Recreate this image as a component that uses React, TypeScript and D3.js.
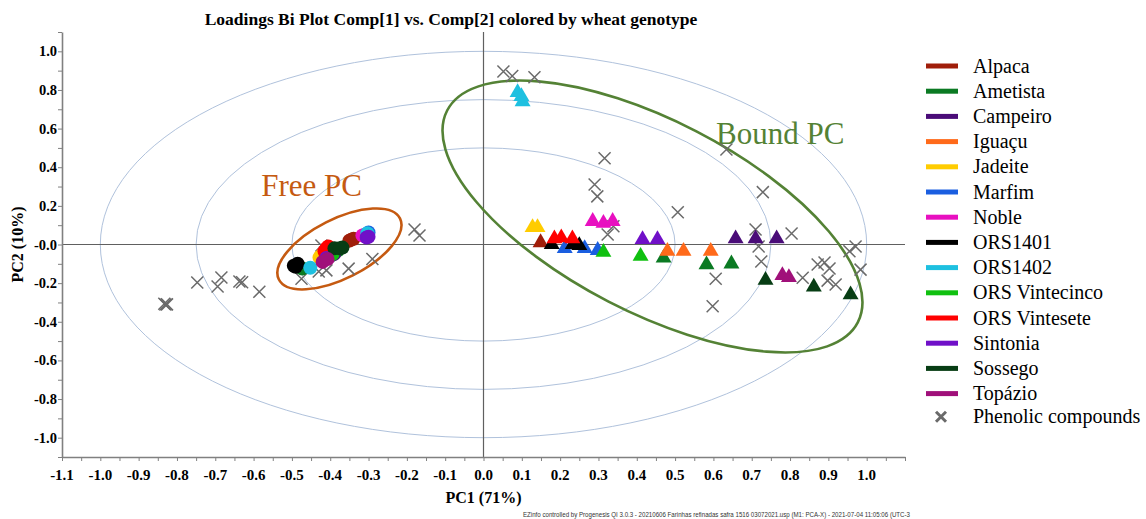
import { useEffect, useRef } from 'react';
import * as d3 from 'd3';

// genotypes and their colours
const genotypes = ['Alpaca', 'Ametista', 'Campeiro', 'Iguaçu', 'Jadeite', 'Marfim', 'Noble', 'ORS1401',
  'ORS1402', 'ORS Vintecinco', 'ORS Vintesete', 'Sintonia', 'Sossego', 'Topázio'];
const colors = ['#a01e0a', '#0b7a23', '#4a0c78', '#ff6a1a', '#ffcc00', '#1a5ee0', '#e810c0', '#000000',
  '#1ec0e0', '#10c010', '#ff0000', '#7010c8', '#073d14', '#a0107a'];

// free phenolic compounds (circles), [PC1, PC2] per genotype
const freeScores = [
  [[-0.35, 0.02], [-0.339, 0.03], [-0.345, 0.025]],
  [[-0.473, -0.124], [-0.395, -0.04], [-0.38, -0.03]],
  [[-0.40, -0.06], [-0.39, -0.05]],
  [[-0.41, -0.04], [-0.42, -0.05]],
  [[-0.428, -0.067], [-0.425, -0.06]],
  [[-0.30, 0.062], [-0.41, -0.03]],
  [[-0.316, 0.047], [-0.31, 0.05]],
  [[-0.495, -0.11], [-0.485, -0.10], [-0.49, -0.115]],
  [[-0.452, -0.12], [-0.303, 0.058]],
  [[-0.394, -0.05], [-0.40, -0.055]],
  [[-0.41, -0.02], [-0.415, -0.035], [-0.405, -0.01]],
  [[-0.305, 0.036], [-0.30, 0.04], [-0.41, -0.07]],
  [[-0.389, -0.02], [-0.368, -0.016], [-0.375, -0.02]],
  [[-0.42, -0.09], [-0.407, -0.075]],
];

// bound phenolic compounds (triangles)
const boundScores = [
  [[0.149, 0.01]],
  [[0.47, -0.07], [0.582, -0.104], [0.647, -0.1]],
  [[0.658, 0.03], [0.71, 0.03], [0.765, 0.03]],
  [[0.48, -0.035], [0.522, -0.035], [0.593, -0.035]],
  [[0.128, 0.088], [0.141, 0.088]],
  [[0.212, -0.02], [0.264, -0.02], [0.298, -0.03]],
  [[0.285, 0.12], [0.313, 0.11], [0.337, 0.12]],
  [[0.178, 0.0], [0.233, 0.0], [0.25, -0.005]],
  [[0.089, 0.787], [0.099, 0.767], [0.102, 0.74]],
  [[0.313, -0.04], [0.41, -0.06]],
  [[0.185, 0.03], [0.203, 0.035], [0.232, 0.03]],
  [[0.415, 0.026], [0.454, 0.026]],
  [[0.736, -0.185], [0.862, -0.22], [0.958, -0.26]],
  [[0.78, -0.16], [0.797, -0.17]],
];

// phenolic compound loadings (crosses)
const phenolicX = [-0.83, -0.826, -0.833, -0.747, -0.694, -0.684, -0.637, -0.63, -0.585, -0.475, -0.43, -0.41,
  -0.352, -0.29, -0.423, -0.18, -0.167,
  0.052, 0.075, 0.133, 0.316, 0.29, 0.297, 0.507, 0.634, 0.729, 0.71, 0.718, 0.804, 0.955, 0.971, 0.339, 0.324,
  0.725, 0.606, 0.598, 0.833, 0.872, 0.89, 0.903, 0.898, 0.919, 0.984];
const phenolicY = [-0.311, -0.31, -0.307, -0.197, -0.217, -0.171, -0.192, -0.195, -0.245, -0.177, -0.14, -0.134,
  -0.125, -0.075, -0.005, 0.078, 0.047,
  0.896, 0.872, 0.866, 0.446, 0.311, 0.249, 0.167, 0.492, 0.271, 0.078, -0.01, 0.057, -0.035, -0.01, 0.094, 0.052,
  -0.088, -0.177, -0.32, -0.172, -0.104, -0.093, -0.124, -0.187, -0.207, -0.13];

// correlation circles and group ellipses
const circleRadii = [1.0, 0.75, 0.5];
const groupLabels = ['Free PC', 'Bound PC'];
const groupColors = ['#c55a11', '#548235'];
const groupCenters = [[-0.376, -0.023], [0.441, 0.145]];
const groupRadii = [[0.177, 0.0775], [0.603, 0.25]];
const groupAngles = [-26.8, 27.3];
const groupLabelPos = [[-0.58, 0.25], [0.607, 0.52]];

const xTickLabels = d3.range(-11, 11).map(d => d / 10);
const yTickLabels = d3.range(-5, 6).map(d => d / 5);

const SERIF = 'Liberation Serif, Times New Roman, DejaVu Serif, serif';

export default function App() {
  const svgRef = useRef(null);
  const width = 1146;
  const height = 519;

  useEffect(() => {
    const svg = d3.select(svgRef.current);
    svg.selectAll('*').remove();

    const x = d3.scaleLinear().domain([-1.1, 1.1]).range([62, 905]);
    const y = d3.scaleLinear().domain([-1.1, 1.1]).range([457, 32]);

    // title
    svg.append('text')
      .attr('x', 451).attr('y', 25)
      .attr('text-anchor', 'middle')
      .attr('font-weight', 'bold').attr('font-size', 17.5)
      .text('Loadings Bi Plot Comp[1] vs. Comp[2] colored by wheat genotype');

    // concentric ellipses
    svg.append('g').selectAll('ellipse')
      .data(circleRadii).enter().append('ellipse')
      .attr('cx', x(0)).attr('cy', y(0))
      .attr('rx', d => x(d) - x(0)).attr('ry', d => y(0) - y(d))
      .attr('fill', 'none').attr('stroke', '#b0c2dc').attr('stroke-width', 1);

    // crosshair
    svg.append('line')
      .attr('x1', x(-1.1)).attr('x2', x(1.1)).attr('y1', y(0)).attr('y2', y(0))
      .attr('stroke', '#606060').attr('stroke-width', 1.2);
    svg.append('line')
      .attr('x1', x(0)).attr('x2', x(0)).attr('y1', y(-1.1)).attr('y2', y(1.1))
      .attr('stroke', '#606060').attr('stroke-width', 1.2);

    // axes
    const xAxis = svg.append('g').attr('transform', `translate(0,${y(-1.1)})`)
      .call(d3.axisBottom(x).tickValues(d3.range(-22, 23).map(d => d / 20)).tickSize(4).tickSizeOuter(0).tickFormat(''));
    const yAxis = svg.append('g').attr('transform', `translate(${x(-1.1)},0)`)
      .call(d3.axisLeft(y).tickValues(d3.range(-11, 12).map(d => d / 10)).tickSize(4).tickSizeOuter(0).tickFormat(''));
    [xAxis, yAxis].forEach(a => {
      a.select('.domain').attr('stroke', '#808080').attr('stroke-width', 1.6);
      a.selectAll('.tick line').attr('stroke', '#808080');
    });

    svg.append('g').selectAll('text')
      .data(xTickLabels).enter().append('text')
      .attr('x', d => x(d)).attr('y', 480)
      .attr('text-anchor', 'middle')
      .attr('font-weight', 'bold').attr('font-size', 15)
      .text(d => d.toFixed(1));

    svg.append('g').selectAll('text')
      .data(yTickLabels).enter().append('text')
      .attr('x', 57).attr('y', d => y(d))
      .attr('dy', '0.35em')
      .attr('text-anchor', 'end')
      .attr('font-weight', 'bold').attr('font-size', 14.5)
      .text(d => (d === 0 ? '-0.0' : d.toFixed(1)));

    svg.append('text')
      .attr('x', x(0)).attr('y', 503)
      .attr('text-anchor', 'middle')
      .attr('font-weight', 'bold').attr('font-size', 16)
      .text('PC1 (71%)');
    svg.append('text')
      .attr('transform', `translate(23,${y(0)}) rotate(-90)`)
      .attr('text-anchor', 'middle')
      .attr('font-weight', 'bold').attr('font-size', 16)
      .text('PC2 (10%)');

    // group ellipses and labels
    groupLabels.forEach((label, i) => {
      const [cx, cy] = groupCenters[i];
      svg.append('ellipse')
        .attr('transform', `translate(${x(cx)},${y(cy)}) rotate(${groupAngles[i]})`)
        .attr('rx', x(cx + groupRadii[i][0]) - x(cx))
        .attr('ry', x(cx + groupRadii[i][1]) - x(cx))
        .attr('fill', 'none').attr('stroke', groupColors[i]).attr('stroke-width', 2.6);
      svg.append('text')
        .attr('x', x(groupLabelPos[i][0])).attr('y', y(groupLabelPos[i][1]))
        .attr('font-size', 31)
        .attr('fill', groupColors[i])
        .text(label);
    });

    // phenolic crosses
    const cross = svg.append('g').attr('stroke', '#6a6a6a').attr('stroke-width', 1.5);
    phenolicX.forEach((px, i) => {
      const cx = x(px);
      const cy = y(phenolicY[i]);
      const s = 6;
      cross.append('path').attr('d', `M${cx - s},${cy - s}L${cx + s},${cy + s}M${cx - s},${cy + s}L${cx + s},${cy - s}`);
    });

    // free scores (circles)
    const pts = svg.append('g');
    genotypes.forEach((g, i) => {
      pts.selectAll(null).data(freeScores[i]).enter().append('circle')
        .attr('cx', d => x(d[0])).attr('cy', d => y(d[1]))
        .attr('r', 7).attr('fill', colors[i]);
    });

    // bound scores (triangles)
    const tri = d3.symbol().type(d3.symbolTriangle).size(110);
    genotypes.forEach((g, i) => {
      pts.selectAll(null).data(boundScores[i]).enter().append('path')
        .attr('d', tri)
        .attr('transform', d => `translate(${x(d[0])},${y(d[1])})`)
        .attr('fill', colors[i]);
    });

    // legend
    const legend = svg.append('g');
    genotypes.forEach((g, i) => {
      const ly = 66 + i * 25.2;
      legend.append('line')
        .attr('x1', 926).attr('x2', 958).attr('y1', ly).attr('y2', ly)
        .attr('stroke', colors[i]).attr('stroke-width', 5);
      legend.append('text')
        .attr('x', 973).attr('y', ly).attr('dy', '0.33em')
        .attr('font-size', 20)
        .text(g);
    });
    const py = 66 + genotypes.length * 25.2 - 2;
    legend.append('path')
      .attr('d', `M936,${py - 5}L946,${py + 5}M936,${py + 5}L946,${py - 5}`)
      .attr('stroke', '#6a6a6a').attr('stroke-width', 3);
    legend.append('text')
      .attr('x', 973).attr('y', py).attr('dy', '0.33em')
      .attr('font-size', 20)
      .text('Phenolic compounds');

    // footer
    svg.append('text')
      .attr('x', 523).attr('y', 517)
      .attr('textLength', 387).attr('lengthAdjust', 'spacingAndGlyphs')
      .attr('font-family', 'Liberation Sans, Arial, sans-serif').attr('font-size', 6.3)
      .attr('fill', '#333')
      .text('EZinfo controlled by Progenesis QI 3.0.3 - 20210606  Farinhas refinadas  safra 1516  03072021.usp (M1: PCA-X) - 2021-07-04 11:05:06 (UTC-3');
  }, []);

  return (
    <svg ref={svgRef} width={width} height={height} fontFamily={SERIF}
      style={{ position: 'absolute', left: 0, top: 0, background: '#fff' }} />
  );
}
